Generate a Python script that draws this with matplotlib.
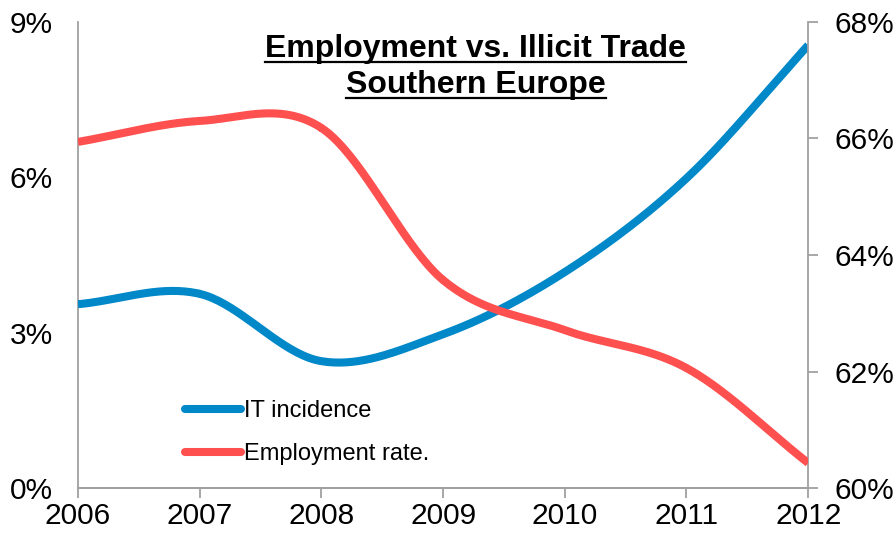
import matplotlib.pyplot as plt
from matplotlib.lines import Line2D
import numpy as np

plt.rcParams['font.family'] = ['Liberation Sans', 'DejaVu Sans']

years = [2006, 2007, 2008, 2009, 2010, 2011, 2012]
it_incidence = [3.55, 3.75, 2.45, 2.97, 4.17, 5.98, 8.55]
employment = [65.94, 66.30, 66.18, 63.57, 62.71, 62.06, 60.43]

BLUE = '#0088C8'
RED = '#FF5050'
GREY = '#A0A0A0'


def smooth(x, y, n=40):
    # Catmull-Rom spline, roughly what Excel does for smoothed lines
    x = np.asarray(x, float)
    y = np.asarray(y, float)
    px = np.concatenate([[2 * x[0] - x[1]], x, [2 * x[-1] - x[-2]]])
    py = np.concatenate([[2 * y[0] - y[1]], y, [2 * y[-1] - y[-2]]])
    xs, ys = [], []
    t = np.linspace(0, 1, n)
    for i in range(1, len(px) - 2):
        for p, out in ((px, xs), (py, ys)):
            p0, p1, p2, p3 = p[i - 1], p[i], p[i + 1], p[i + 2]
            out.extend(0.5 * (2 * p1 + (-p0 + p2) * t
                              + (2 * p0 - 5 * p1 + 4 * p2 - p3) * t ** 2
                              + (-p0 + 3 * p1 - 3 * p2 + p3) * t ** 3))
    return xs, ys


fig = plt.figure(figsize=(8.96, 5.34), dpi=100)
ax = fig.add_axes([0.087, 0.086, 0.815, 0.873])
ax2 = ax.twinx()

sx, sy = smooth(years, it_incidence)
ax.plot(sx, sy, color=BLUE, lw=5.8, solid_capstyle='butt', zorder=3)
sx, sy = smooth(years, employment)
ax2.plot(sx, sy, color=RED, lw=5.8, solid_capstyle='butt', zorder=3)

ax.set_xlim(2006, 2012)
ax.set_ylim(0, 9)
ax2.set_ylim(60, 68)
ax.set_xticks(years)
ax.set_yticks([0, 3, 6, 9])
ax.set_yticklabels(['0%', '3%', '6%', '9%'])
ax2.set_yticks([60, 62, 64, 66, 68])
ax2.set_yticklabels([f'{v}%' for v in [60, 62, 64, 66, 68]])

for a in (ax, ax2):
    for s in a.spines.values():
        s.set_color(GREY)
        s.set_linewidth(1.3)
    a.spines['top'].set_visible(False)
ax.spines['right'].set_visible(False)
ax2.spines['left'].set_visible(False)
ax.tick_params(axis='x', labelsize=21.5, length=7, width=1.3, color=GREY, pad=3)
ax.tick_params(axis='y', labelsize=21.5, length=0, pad=18)
ax2.tick_params(axis='y', labelsize=21.5, length=7, width=1.3, color=GREY, pad=12)

title_lines = ['Employment vs. Illicit Trade', 'Southern Europe']
title_y = [0.893, 0.826]
texts = []
for line, yy in zip(title_lines, title_y):
    texts.append(fig.text(0.531, yy, line, ha='center', va='baseline',
                          fontsize=23, fontweight='bold'))

fig.canvas.draw()
r = fig.canvas.get_renderer()
for t in texts:
    bb = t.get_window_extent(r).transformed(fig.transFigure.inverted())
    ty = t.get_position()[1] - 0.010
    fig.add_artist(Line2D([bb.x0, bb.x1], [ty, ty], color='black', lw=1.6,
                          transform=fig.transFigure))

handles = [Line2D([], [], color=BLUE, lw=5.8, solid_capstyle='round'),
           Line2D([], [], color=RED, lw=5.8, solid_capstyle='round')]
ax.legend(handles, ['IT incidence', 'Employment rate.'], loc='upper left',
          bbox_to_anchor=(0.117, 0.235), frameon=False, fontsize=17,
          handlelength=2.4, handletextpad=0.1, labelspacing=0.92)

fig.savefig('out.png', dpi=100)
